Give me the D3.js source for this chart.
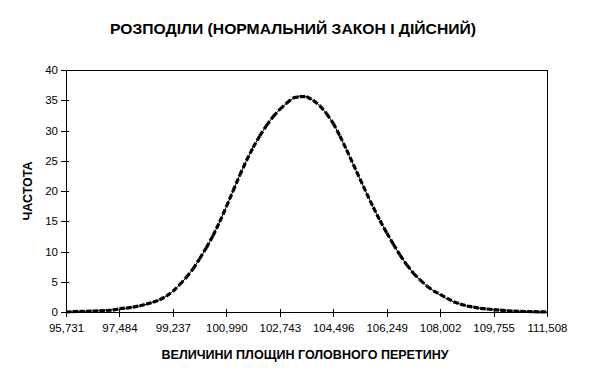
<!DOCTYPE html>
<html>
<head>
<meta charset="utf-8">
<script src="https://cdn.jsdelivr.net/npm/d3@7"></script>
<style>
  html, body { margin: 0; padding: 0; background: #fff; }
  svg { display: block; font-family: Arial, "Liberation Sans", sans-serif; }
</style>
</head>
<body>
<svg id="chart" width="589" height="385"></svg>
<script>
// ---- data ----
const titleText = "РОЗПОДІЛИ (НОРМАЛЬНИЙ ЗАКОН І ДІЙСНИЙ)";
const xTitle = "ВЕЛИЧИНИ ПЛОЩИН ГОЛОВНОГО ПЕРЕТИНУ";
const yTitle = "ЧАСТОТА";
const xTickLabels = ["95,731","97,484","99,237","100,990","102,743","104,496","106,249","108,002","109,755","111,508"];
const yTicks = [0,5,10,15,20,25,30,35,40];
const xStart = 95.731, xEnd = 111.508, xStep = 0.219125;
// normal law (thin solid line)
const normalValues = [
  0.0,0.05,0.1,0.12,0.18,0.22,0.3,0.38,0.45,0.6,
  0.8,1.0,1.25,1.6,2.0,2.6,3.4,4.5,5.7,7.1,
  8.8,10.6,12.6,14.9,17.4,20.0,22.6,25.0,27.2,29.1,
  30.8,32.3,33.5,34.5,35.3,35.7,35.6,35.0,34.1,32.8,
  31.2,29.1,26.8,24.4,22.0,19.6,17.3,15.1,13.1,11.2,
  9.4,7.8,6.4,5.3,4.3,3.5,2.8,2.2,1.7,1.3,
  1.0,0.8,0.6,0.5,0.4,0.3,0.2,0.15,0.1,0.08,
  0.05,0.03,0.0
];
// actual distribution (thick dashed line)
const actualValues = [
  0.0,0.05,0.1,0.12,0.15,0.2,0.25,0.3,0.55,0.65,
  0.8,1.0,1.3,1.6,2.0,2.6,3.4,4.5,5.7,7.1,
  8.8,10.6,12.6,14.9,17.4,20.0,22.6,25.0,27.2,29.1,
  30.8,32.3,33.5,34.5,35.4,35.6,35.6,35.0,34.1,32.8,
  31.2,29.1,26.8,24.4,22.0,19.6,17.3,15.1,13.1,11.2,
  9.4,7.8,6.4,5.3,4.3,3.5,2.9,2.3,1.7,1.3,
  1.0,0.8,0.6,0.5,0.4,0.3,0.2,0.15,0.1,0.08,
  0.05,0.03,0.0
];

// ---- chart ----
const svg = d3.select("#chart");
const m = { left: 66, right: 42, top: 70, bottom: 73 };
const W = 589, H = 385;
const iw = W - m.left - m.right, ih = H - m.top - m.bottom;

const xs = normalValues.map((_, i) => xStart + i * xStep);
const x = d3.scaleLinear().domain([xStart, xEnd]).range([0, iw]);
const y = d3.scaleLinear().domain([0, 40]).range([ih, 0]);

const g = svg.append("g").attr("transform", `translate(${m.left},${m.top})`);

// frame
g.append("rect").attr("x", 0).attr("y", 0).attr("width", iw).attr("height", ih)
  .attr("fill", "none").attr("stroke", "#000").attr("stroke-width", 1)
  .attr("shape-rendering", "crispEdges");

// y axis
const yAxis = d3.axisLeft(y).tickValues(yTicks).tickSize(0).tickPadding(8);
const yg = g.append("g").call(yAxis);
yg.select(".domain").remove();
yg.selectAll("text").attr("font-size", "11.5px").attr("fill", "#000").attr("font-family", "Arial, 'Liberation Sans', sans-serif");
yg.selectAll(".tick").append("line").attr("x1", -5).attr("x2", 3).attr("stroke", "#000").attr("shape-rendering", "crispEdges");

// x axis
const xTickVals = xTickLabels.map((_, i) => xStart + i * (xEnd - xStart) / (xTickLabels.length - 1));
const xAxis = d3.axisBottom(x).tickValues(xTickVals).tickFormat((d, i) => xTickLabels[i]).tickSize(0).tickPadding(12);
const xg = g.append("g").attr("transform", `translate(0,${ih})`).call(xAxis);
xg.select(".domain").remove();
xg.selectAll("text").attr("font-size", "11.5px").attr("fill", "#000").attr("font-family", "Arial, 'Liberation Sans', sans-serif");
xg.selectAll(".tick").append("line").attr("y1", -3).attr("y2", 5).attr("stroke", "#000").attr("shape-rendering", "crispEdges");

// normal line (thin)
const line = d3.line().x(d => x(d[0])).y(d => y(d[1]));
g.append("path").datum(xs.map((v, i) => [v, normalValues[i]]))
  .attr("d", line).attr("fill", "none").attr("stroke", "#000").attr("stroke-width", 1);

// actual line (thick dashed; dash pattern restarts at each segment)
const actualPts = xs.map((v, i) => [v, actualValues[i]]);
g.append("g").selectAll("path").data(d3.pairs(actualPts)).join("path")
  .attr("d", d => line(d)).attr("fill", "none").attr("stroke", "#000")
  .attr("stroke-width", 3.2).attr("stroke-dasharray", "5.5,2.5");

// titles
svg.append("text").attr("x", 293).attr("y", 34).attr("text-anchor", "middle")
  .attr("font-size", "15px").attr("font-weight", "bold")
  .attr("textLength", 366).attr("lengthAdjust", "spacingAndGlyphs").text(titleText);
svg.append("text").attr("x", 305).attr("y", 359).attr("text-anchor", "middle")
  .attr("font-size", "13px").attr("font-weight", "bold")
  .attr("textLength", 287).attr("lengthAdjust", "spacingAndGlyphs").text(xTitle);
svg.append("text").attr("transform", `translate(32,${m.top + ih / 2}) rotate(-90)`)
  .attr("text-anchor", "middle").attr("font-size", "12.5px").attr("font-weight", "bold").text(yTitle);
</script>
</body>
</html>
